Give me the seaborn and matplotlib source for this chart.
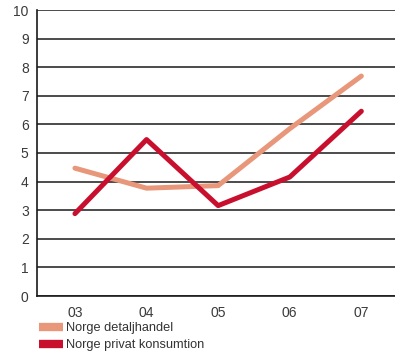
import matplotlib
matplotlib.use("Agg")
import matplotlib.pyplot as plt
from matplotlib.lines import Line2D
import seaborn as sns
import pandas as pd

years = ["03", "04", "05", "06", "07"]
detaljhandel = [4.47, 3.77, 3.86, 5.85, 7.69]
privat = [2.88, 5.47, 3.16, 4.16, 6.46]
series_names = ["Norge detaljhandel", "Norge privat konsumtion"]
colors = ["#E8977A", "#C8102E"]

df = pd.DataFrame({
    "year": years * 2,
    "value": detaljhandel + privat,
    "series": [series_names[0]] * len(years) + [series_names[1]] * len(years),
})
df["x"] = list(range(len(years))) * 2

sns.set_style("white")
plt.rcParams["font.family"] = ["Liberation Sans", "DejaVu Sans"]

fig = plt.figure(figsize=(3.95, 3.54), dpi=100)
ax = fig.add_axes([37 / 395, 58 / 354, (395 - 37) / 395, 286 / 354])

sns.lineplot(data=df, x="x", y="value", hue="series", palette=colors,
             hue_order=series_names, linewidth=3.6, ax=ax, legend=False,
             zorder=3)

ax.set_ylim(0, 10)
ax.set_xlim(-0.53, 4.47)
ax.set_yticks(range(0, 11))
ax.set_xticks(range(len(years)))
ax.set_xticklabels(years)
ax.set_xlabel("")
ax.set_ylabel("")
ax.yaxis.grid(True, color="#1a1a1a", linewidth=1.1)
ax.set_axisbelow(True)
ax.tick_params(axis="both", length=0, labelsize=10, colors="#3a3a3a")
ax.tick_params(axis="y", pad=6)
ax.tick_params(axis="x", pad=7)
for s in ["top", "right"]:
    ax.spines[s].set_visible(False)
ax.spines["left"].set_color("#1a1a1a")
ax.spines["left"].set_linewidth(1.2)
ax.spines["bottom"].set_color("#1a1a1a")
ax.spines["bottom"].set_linewidth(1.2)

handles = [Line2D([0], [0], color=c, lw=6, solid_capstyle="butt") for c in colors]
fig.legend(handles, series_names, loc="upper left",
           bbox_to_anchor=(39 / 395, 1 - 322 / 354), frameon=False,
           fontsize=9.2, handlelength=1.85, handletextpad=0.3,
           labelspacing=0.42, borderpad=0, borderaxespad=0,
           labelcolor="#333333")

fig.savefig("out.png", dpi=100)
